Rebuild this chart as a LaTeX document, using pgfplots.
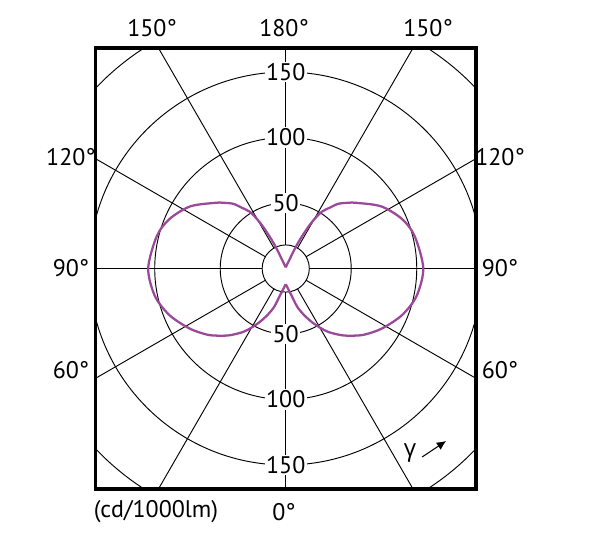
\documentclass[border=0pt]{standalone}
\usepackage{pgfplots}
\usepackage{pgfplotstable}
\pgfplotsset{compat=1.18}
\usepackage{fontspec}
\setmainfont{PT Sans}
\newfontfamily\greekfont{Open Sans}
\usetikzlibrary{arrows.meta}

\definecolor{lobe}{RGB}{155,72,155}

% gamma (0 = straight down) vs intensity in cd/1000lm
\pgfplotstableread{
g r
0 12
3.7 13.8
7.9 16.6
12.3 21.4
17 31
22 39
26 45.5
30 52
34 58.5
40 66.5
45 72.5
50 78.5
58 86.5
68 95.5
78 102
90 105
104 101.5
113 96.5
123 87
133 73.5
137 68.5
141 63.5
144 57.5
147.6 51.3
150 43
151.5 36.3
153.5 26
155.3 17
156.7 8.5
158.9 4.7
163.7 2.4
180 0.9
}\lobedata

\begin{document}
\begin{tikzpicture}
\useasboundingbox (-71.6pt,-41.25pt) rectangle (378.4pt,366.75pt);
\begin{axis}[
    scale only axis,
    width=285.4pt, height=330.75pt,
    xmin=-145.23, xmax=145.23, ymin=-168.3, ymax=168.3,
    ticks=none,
    axis line style={line width=2.6pt},
    clip=true,
]
% polar grid
\pgfplotsinvokeforeach{18,50,100,150,200}{
  \draw[line width=0.7pt] (axis cs:0,0) circle[radius=#1];
}
\pgfplotsinvokeforeach{0,30,60,90,120,150,180,210,240,270,300,330}{
  \draw[line width=0.7pt] (axis cs:{18*cos(#1)},{18*sin(#1)}) -- (axis cs:{400*cos(#1)},{400*sin(#1)});
}
% right and left halves of the distribution
\addplot[lobe, line width=1.7pt, smooth, tension=0.5, data cs=polar] table[x expr=\thisrow{g}-90, y=r] {\lobedata};
\addplot[lobe, line width=1.7pt, smooth, tension=0.5, data cs=polar] table[x expr=270-\thisrow{g}, y=r] {\lobedata};
% radius labels
\pgfplotsinvokeforeach{50,100,150}{
  \node[fill=white, inner sep=1.2pt, font=\fontsize{18}{20}\selectfont] at (axis cs:0,#1) {#1};
  \node[fill=white, inner sep=1.2pt, font=\fontsize{18}{20}\selectfont] at (axis cs:0,-#1) {#1};
}
\end{axis}
% angle labels round the frame
\begin{scope}[every node/.style={font=\fontsize{18}{20}\selectfont}]
\node at (42.4pt,345.75pt) {150°};
\node at (141.4pt,345.75pt) {180°};
\node at (249.4pt,345.75pt) {150°};
\node at (-18.4pt,249pt) {120°};
\node at (-18.4pt,165.75pt) {90°};
\node at (-18.4pt,89.25pt) {60°};
\node at (303.4pt,249pt) {120°};
\node at (303.4pt,165.75pt) {90°};
\node at (303.4pt,89.25pt) {60°};
\node at (141.4pt,-17.25pt) {0°};
\node at (45.4pt,-17.25pt) {(cd/1000lm)};
\node[font=\greekfont\fontsize{18}{20}\selectfont] at (235.9pt,27pt) {γ};
\end{scope}
\draw[-{Latex[length=7pt,width=6.5pt]}, line width=0.8pt] (245pt,24pt) -- (263pt,36pt);
\end{tikzpicture}
\end{document}
